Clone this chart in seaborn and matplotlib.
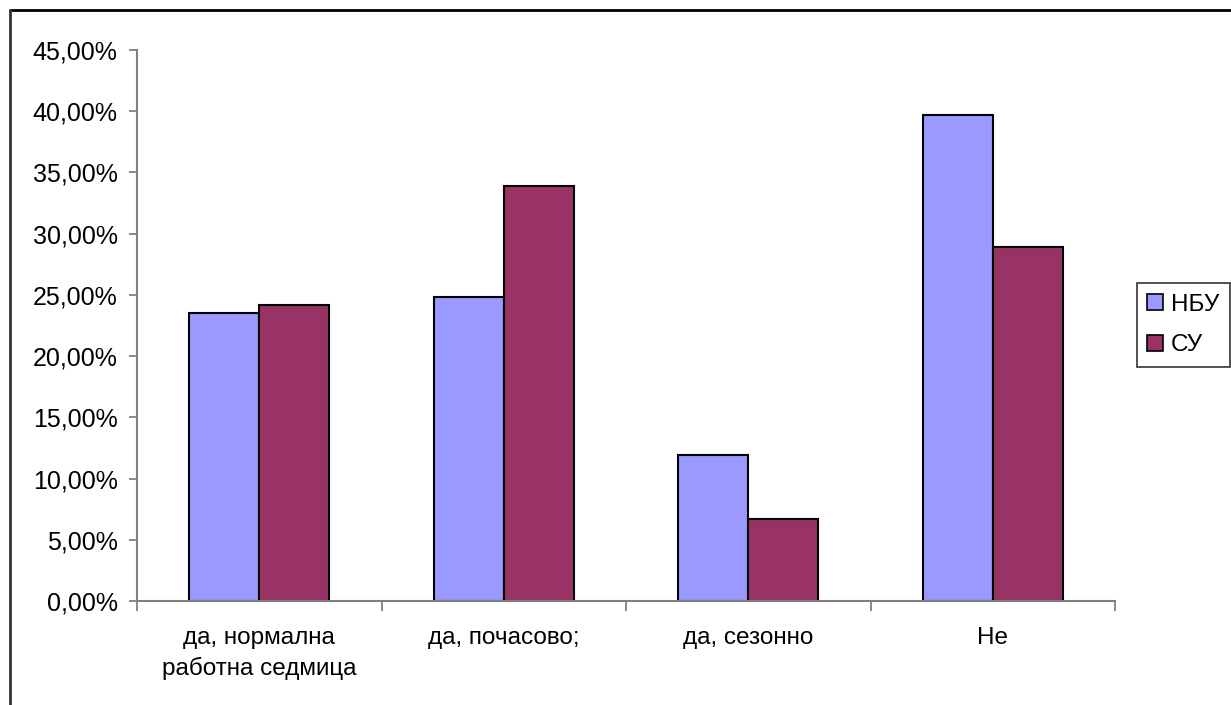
import pandas as pd
import seaborn as sns
import matplotlib.pyplot as plt
from matplotlib.lines import Line2D
from matplotlib.ticker import FuncFormatter, FixedLocator

# values (percent)
categories = ['да, нормална\nработна седмица', 'да, почасово;', 'да, сезонно', 'Не']
series = ['НБУ', 'СУ']
nbu = [23.5, 24.8, 11.9, 39.7]
su = [24.2, 33.9, 6.7, 28.9]
colors = ['#9999FF', '#993366']

df = pd.DataFrame({
    'cat': categories * 2,
    'group': ['НБУ'] * 4 + ['СУ'] * 4,
    'value': nbu + su,
})

sns.set_style('white')
plt.rcParams['font.family'] = ['Liberation Sans', 'DejaVu Sans']
plt.rcParams['text.color'] = 'black'
plt.rcParams['xtick.color'] = 'black'
plt.rcParams['ytick.color'] = 'black'

fig = plt.figure(figsize=(12.31, 7.05), dpi=100)
ax = fig.add_axes([137 / 1231, 1 - 601 / 705, (1115 - 137) / 1231, (601 - 50) / 705])

sns.barplot(data=df, x='cat', y='value', hue='group', palette=colors,
            width=0.571, edgecolor='black', linewidth=1.5, saturation=1,
            order=categories, hue_order=series, ax=ax)

ax.set_xlim(-0.5, 3.5)
ax.set_ylim(0, 45)
ax.set_yticks(range(0, 46, 5))
ax.yaxis.set_major_formatter(FuncFormatter(lambda v, p: f'{v:.2f}'.replace('.', ',') + '%'))

# category labels at centres, tick marks at boundaries
ax.xaxis.set_major_locator(FixedLocator([-0.5, 0.5, 1.5, 2.5, 3.5]))
ax.set_xticklabels([''] * 5)
ax.xaxis.set_minor_locator(FixedLocator([0, 1, 2, 3]))
ax.set_xticklabels(categories, minor=True, fontsize=17.5)
ax.tick_params(axis='x', which='minor', bottom=True, length=0, pad=19, labelcolor='black')
ax.tick_params(axis='x', which='major', bottom=True, length=7, width=1.3,
               color='#808080', direction='out')
ax.tick_params(axis='y', left=True, length=6, width=1.3, color='#808080', direction='out',
               labelsize=18, pad=8, labelcolor='black')
for lbl in ax.get_xticklabels(minor=True):
    lbl.set_linespacing(1.4)

ax.set_xlabel('')
ax.set_ylabel('')
for s in ['top', 'right']:
    ax.spines[s].set_visible(False)
for s in ['left', 'bottom']:
    ax.spines[s].set_color('#808080')
    ax.spines[s].set_linewidth(1.5)

ax.get_legend().remove()
handles = [Line2D([], [], marker='s', linestyle='', markersize=11,
                  markerfacecolor=c, markeredgecolor='black', markeredgewidth=1.2)
           for c in colors]
leg = fig.legend(handles, series, loc='center left',
                 bbox_to_anchor=(1137 / 1231, 1 - 325 / 705), fontsize=17.5,
                 frameon=True, fancybox=False, edgecolor='black',
                 handlelength=0.6, handletextpad=0.35, borderpad=0.45,
                 labelspacing=0.75, borderaxespad=0)
leg.get_frame().set_linewidth(1.2)

# outer chart frame
fig.add_artist(Line2D([10 / 1231, 1], [1 - 10 / 705, 1 - 10 / 705], color='black', lw=2))
fig.add_artist(Line2D([10 / 1231, 10 / 1231], [0, 1 - 10 / 705], color='#333333', lw=2))

fig.savefig('out.png', dpi=100)
